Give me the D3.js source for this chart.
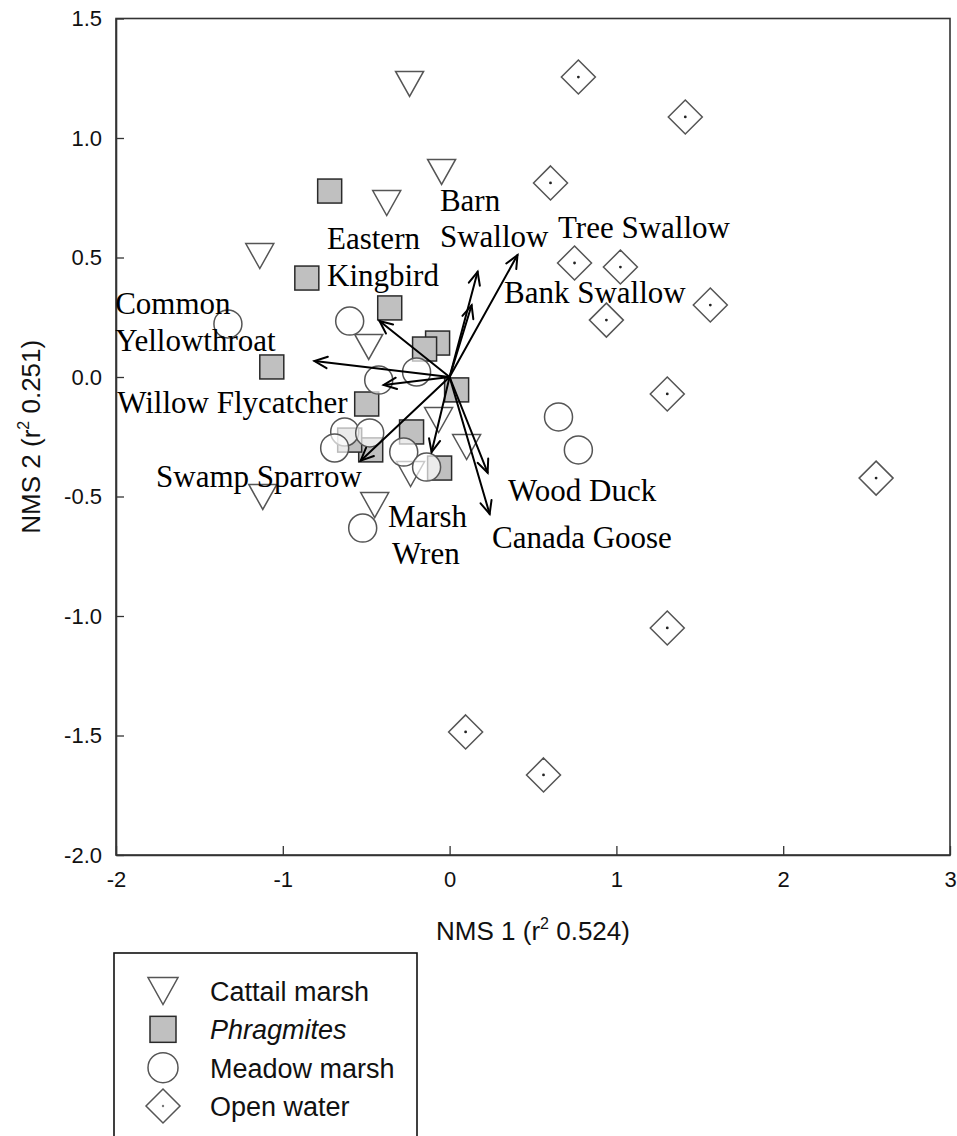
<!DOCTYPE html>
<html><head><meta charset="utf-8">
<script src="https://cdn.jsdelivr.net/npm/d3@7"></script>
<style>body{margin:0;background:#fff}svg{display:block}</style>
</head><body>
<svg id="c" width="957" height="1136"></svg>
<script>
// ---- data (NMS ordination scores) ----
const cattailX = [-0.24, -0.048, -0.377, -1.138, -0.485, -0.066, 0.102, -1.12, -0.449, -0.234];
const cattailY = [1.226, 0.858, 0.728, 0.506, 0.126, -0.180, -0.293, -0.502, -0.536, -0.406];

const phragX = [-0.719, -0.856, -1.066, -0.359, -0.072, -0.150, 0.042, -0.497, -0.228, -0.473, -0.060, -0.599];
const phragY = [0.778, 0.414, 0.042, 0.289, 0.142, 0.117, -0.054, -0.113, -0.230, -0.305, -0.381, -0.264];

const meadowX = [-1.329, -0.599, -0.198, -0.425, -0.629, -0.479, -0.689, -0.275, -0.138, -0.521, 0.653, 0.772];
const meadowY = [0.222, 0.234, 0.021, -0.013, -0.230, -0.234, -0.297, -0.314, -0.377, -0.632, -0.167, -0.305];

const openX = [0.772, 1.413, 0.605, 0.749, 1.024, 1.563, 0.940, 1.305, 2.557, 1.305, 0.096, 0.563];
const openY = [1.255, 1.088, 0.812, 0.477, 0.460, 0.301, 0.238, -0.071, -0.423, -1.050, -1.485, -1.665];

// species vectors (joint plot)
const species = ["Barn Swallow", "Bank Swallow", "Tree Swallow", "Eastern Kingbird", "Common Yellowthroat",
                 "Willow Flycatcher", "Swamp Sparrow", "Marsh Wren", "Wood Duck", "Canada Goose"];
const vecX = [0.168, 0.132, 0.407, -0.42, -0.81, -0.395, -0.533, -0.108, 0.228, 0.24];
const vecY = [0.44, 0.30, 0.51, 0.234, 0.067, -0.033, -0.35, -0.314, -0.40, -0.573];

const xTicks = [-2, -1, 0, 1, 2, 3];
const yTicks = [1.5, 1.0, 0.5, 0.0, -0.5, -1.0, -1.5, -2.0];

const legendNames = ["Cattail marsh", "Phragmites", "Meadow marsh", "Open water"];

// species label lines, anchored in data units (left, baseline)
const labelText = ["Barn", "Swallow", "Tree Swallow", "Bank Swallow", "Eastern", "Kingbird", "Common", "Yellowthroat",
                   "Willow Flycatcher", "Swamp Sparrow", "Marsh", "Wren", "Wood Duck", "Canada Goose"];
const labelX = [-0.058, -0.058, 0.650, 0.326, -0.735, -0.735, -2.005, -2.005, -1.993, -1.760, -0.370, -0.345, 0.350, 0.254];
const labelY = [0.695, 0.544, 0.582, 0.310, 0.536, 0.381, 0.264, 0.109, -0.151, -0.460, -0.628, -0.782, -0.519, -0.715];

// ---- chart ----
const svg = d3.select("#c");
const L = 116, R = 950, T = 18.5, B = 855;
const x = d3.scaleLinear().domain([-2, 3]).range([L, R]);
const y = d3.scaleLinear().domain([-2, 1.5]).range([B, T]);

const sans = "Arial, 'Liberation Sans', sans-serif";
const serif = "'Times New Roman', 'Liberation Serif', serif";
const axisCol = "#333";
const loc = d3.formatLocale({ decimal: ".", thousands: ",", grouping: [3], currency: ["", ""], minus: "-" });

// frame
svg.append("rect").attr("x", L).attr("y", T).attr("width", R - L).attr("height", B - T)
  .attr("fill", "none").attr("stroke", axisCol).attr("stroke-width", 1.6);

// axes (ticks inward)
const xAxis = d3.axisBottom(x).tickValues(xTicks).tickSizeInner(-9).tickSizeOuter(0).tickPadding(16)
  .tickFormat(loc.format("d"));
const gx = svg.append("g").attr("transform", `translate(0,${B})`).call(xAxis);
const yAxis = d3.axisLeft(y).tickValues(yTicks).tickSizeInner(-8).tickSizeOuter(0).tickPadding(22)
  .tickFormat(loc.format(".1f"));
const gy = svg.append("g").attr("transform", `translate(${L},0)`).call(yAxis);
[gx, gy].forEach(g => {
  g.select(".domain").attr("stroke", axisCol).attr("stroke-width", 1.6);
  g.selectAll(".tick line").attr("stroke", axisCol).attr("stroke-width", 1.3);
  g.selectAll(".tick text").attr("font-family", sans).attr("font-size", 22).attr("fill", "#111");
});
gy.selectAll(".tick text").attr("dx", 8);

// axis titles
const xt = svg.append("text").attr("x", (L + R) / 2).attr("y", 940).attr("text-anchor", "middle")
  .attr("font-family", sans).attr("font-size", 26).attr("fill", "#111");
xt.append("tspan").text("NMS 1 (r");
xt.append("tspan").attr("dy", -11).attr("font-size", 16).text("2");
xt.append("tspan").attr("dy", 11).text(" 0.524)");

const yt = svg.append("text").attr("transform", `translate(40,${(T + B) / 2}) rotate(-90)`).attr("text-anchor", "middle")
  .attr("font-family", sans).attr("font-size", 26).attr("fill", "#111");
yt.append("tspan").text("NMS 2 (r");
yt.append("tspan").attr("dy", -11).attr("font-size", 16).text("2");
yt.append("tspan").attr("dy", 11).text(" 0.251)");

// marker shapes
const triPath = (w, h) => `M${-w/2},${-h/2}L${w/2},${-h/2}L0,${h/2}Z`;
const diaPath = (s) => `M0,${-s}L${s},0L0,${s}L${-s},0Z`;
const markStroke = "#555";

const plot = svg.append("g");
const cattail = cattailX.map((v, i) => [v, cattailY[i]]);
const phrag = phragX.map((v, i) => [v, phragY[i]]);
const meadow = meadowX.map((v, i) => [v, meadowY[i]]);
const openw = openX.map((v, i) => [v, openY[i]]);

plot.append("g").selectAll("path").data(cattail).join("path")
  .attr("d", triPath(28, 25)).attr("transform", d => `translate(${x(d[0])},${y(d[1])})`)
  .attr("fill", "#fff").attr("fill-opacity", 0.7).attr("stroke", markStroke).attr("stroke-width", 1.5);

plot.append("g").selectAll("rect").data(phrag).join("rect")
  .attr("x", d => x(d[0]) - 12).attr("y", d => y(d[1]) - 12).attr("width", 24).attr("height", 24)
  .attr("fill", "#c0c0c0").attr("stroke", "#2a2a2a").attr("stroke-width", 1.5);

plot.append("g").selectAll("circle").data(meadow).join("circle")
  .attr("cx", d => x(d[0])).attr("cy", d => y(d[1])).attr("r", 14)
  .attr("fill", "#fff").attr("fill-opacity", 0.68).attr("stroke", markStroke).attr("stroke-width", 1.5);

const dg = plot.append("g").selectAll("g").data(openw).join("g")
  .attr("transform", d => `translate(${x(d[0])},${y(d[1])})`);
dg.append("path").attr("d", diaPath(17)).attr("fill", "#fff").attr("fill-opacity", 0.7)
  .attr("stroke", markStroke).attr("stroke-width", 1.5);
dg.append("circle").attr("r", 1.4).attr("fill", "#222");

// species vectors
const vec = species.map((s, i) => ({ s, x: vecX[i], y: vecY[i] }));
const ag = svg.append("g").attr("stroke", "#000").attr("stroke-width", 2).attr("fill", "none").attr("stroke-linecap", "round");
const ox = x(0), oy = y(0);
vec.forEach(v => {
  const tx = x(v.x), ty = y(v.y);
  const ang = Math.atan2(ty - oy, tx - ox);
  const hl = 14, ha = 0.42;
  ag.append("line").attr("x1", ox).attr("y1", oy).attr("x2", tx).attr("y2", ty);
  ag.append("path").attr("d",
    `M${tx - hl * Math.cos(ang - ha)},${ty - hl * Math.sin(ang - ha)}L${tx},${ty}L${tx - hl * Math.cos(ang + ha)},${ty - hl * Math.sin(ang + ha)}`);
});

// species labels
svg.append("g").selectAll("text").data(labelText).join("text")
  .attr("x", (d, i) => x(labelX[i])).attr("y", (d, i) => y(labelY[i]))
  .attr("font-family", serif).attr("font-size", 31).attr("fill", "#000").text(d => d);

// legend
const lg = svg.append("g");
lg.append("rect").attr("x", 114).attr("y", 953).attr("width", 303).attr("height", 260)
  .attr("fill", "#fff").attr("stroke", "#111").attr("stroke-width", 1.6);
const rowY = d3.scalePoint().domain(legendNames).range([991, 1106]);
const sx = 163;
lg.append("path").attr("d", triPath(30, 27)).attr("transform", `translate(${sx},${rowY(legendNames[0])})`)
  .attr("fill", "#fff").attr("stroke", markStroke).attr("stroke-width", 1.5);
lg.append("rect").attr("x", sx - 13).attr("y", rowY(legendNames[1]) - 13).attr("width", 26).attr("height", 26)
  .attr("fill", "#c0c0c0").attr("stroke", "#2a2a2a").attr("stroke-width", 1.5);
lg.append("circle").attr("cx", sx).attr("cy", rowY(legendNames[2])).attr("r", 15)
  .attr("fill", "#fff").attr("stroke", markStroke).attr("stroke-width", 1.5);
lg.append("path").attr("d", diaPath(17)).attr("transform", `translate(${sx},${rowY(legendNames[3])})`)
  .attr("fill", "#fff").attr("stroke", markStroke).attr("stroke-width", 1.5);
lg.append("circle").attr("cx", sx).attr("cy", rowY(legendNames[3])).attr("r", 1.2).attr("fill", "#777");
lg.selectAll("text.lt").data(legendNames).join("text").attr("class", "lt")
  .attr("x", 210).attr("y", d => rowY(d) + 10)
  .attr("font-family", sans).attr("font-size", 27).attr("fill", "#111")
  .attr("font-style", d => d === "Phragmites" ? "italic" : "normal")
  .text(d => d);
</script>
</body></html>
